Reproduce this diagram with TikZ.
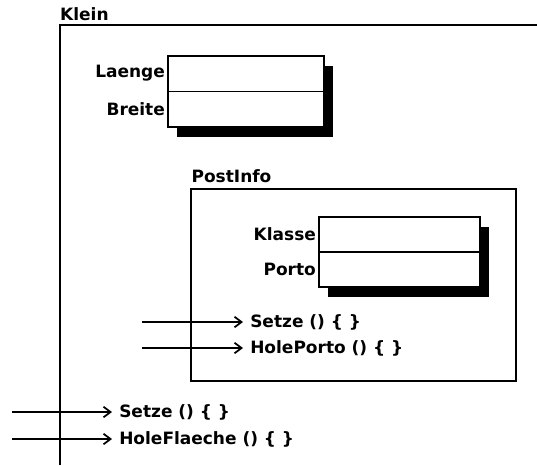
\documentclass[tikz,border=0pt]{standalone}
\usepackage{fontspec}
\setmainfont{DejaVu Sans}
\usetikzlibrary{arrows.meta,shadows,calc}

\tikzset{
  every node/.style={font=\fontsize{14.5}{17}\selectfont\bfseries},
  frame/.style={draw, line width=1.1pt},
  title/.style={inner sep=0pt},
  fieldbox/.style={draw, fill=white, line width=0.9pt, inner sep=0pt,
    drop shadow={shadow xshift=0.27cm, shadow yshift=-0.3cm, fill=black, opacity=1},
    path picture={\draw[line width=0.9pt] (path picture bounding box.west) -- (path picture bounding box.east);}},
  field/.style={anchor=east, inner sep=2pt},
  method/.style={anchor=west, inner xsep=6pt, inner ysep=2pt},
  call/.style={line width=1.4pt, -{Straight Barb[length=6pt, width=9pt, line width=1.5pt]}},
}

\begin{document}
\begin{tikzpicture}[x=0.03cm, y=-0.03cm]
  \useasboundingbox (0,0) rectangle (537,465);

  % outer class, open to the right and below
  \draw[frame] (60,465) -- (60,25) -- (537,25);
  \node[title, anchor=base west] (klein) at (60,20) {Klein};

  \node[fieldbox, minimum width=4.68cm, minimum height=2.13cm] (masse) at (246,91.5) {};
  \node[field] (laenge) at ($(masse.north west)!0.25!(masse.south west)$) {Laenge};
  \node[field] (breite) at ($(masse.north west)!0.75!(masse.south west)$) {Breite};

  % inner class
  \node[frame, minimum width=9.75cm, minimum height=5.76cm] (post) at (353.5,285) {};
  \node[title, anchor=base west] (postinfo) at ($(post.north west)+(1,-6)$) {PostInfo};

  \node[fieldbox, minimum width=4.83cm, minimum height=2.1cm] (porto) at (399.5,252) {};
  \node[field] (klasse) at ($(porto.north west)!0.25!(porto.south west)$) {Klasse};
  \node[field] (portowert) at ($(porto.north west)!0.75!(porto.south west)$) {Porto};

  \node[method] (setzepost) at (243,322) {Setze () \{ \}};
  \node[method] (holeporto) at (243,348) {HolePorto () \{ \}};
  \coordinate (insetzepost) at (142,322);
  \coordinate (inholeporto) at (142,348);
  \draw[call] (insetzepost) -- (setzepost);
  \draw[call] (inholeporto) -- (holeporto);

  \node[method] (setzeklein) at (112,412) {Setze () \{ \}};
  \node[method] (holeflaeche) at (112,439) {HoleFlaeche () \{ \}};
  \coordinate (insetzeklein) at (12,412);
  \coordinate (inholeflaeche) at (12,439);
  \draw[call] (insetzeklein) -- (setzeklein);
  \draw[call] (inholeflaeche) -- (holeflaeche);
\end{tikzpicture}
\end{document}
